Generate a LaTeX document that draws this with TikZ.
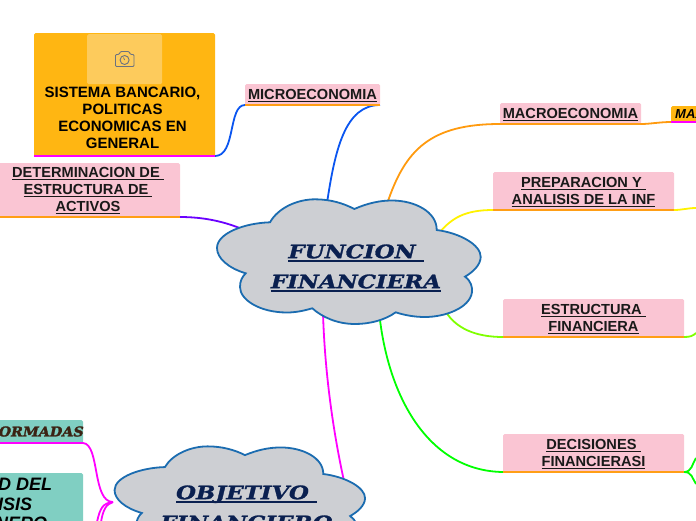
\documentclass[tikz,border=0pt]{standalone}
\usepackage{fontspec}
\setmainfont{Liberation Sans}
\newfontfamily\ttlfont[FakeStretch=1.24,FakeBold=1.6]{DejaVu Serif}
\newfontfamily\formfont[FakeStretch=1.06,FakeBold=2]{DejaVu Serif}
\usetikzlibrary{backgrounds}
\definecolor{pinkbox}{HTML}{FAC5D3}
\definecolor{orangebox}{HTML}{FFB612}
\definecolor{orangelight}{HTML}{FDCB5C}
\definecolor{tealbox}{HTML}{80CFC2}
\definecolor{linebar}{HTML}{FF9E16}
\definecolor{cloudfill}{HTML}{CDCFD3}
\definecolor{cloudline}{HTML}{1B6CB0}
\definecolor{navy}{HTML}{0A2050}
\definecolor{brownish}{HTML}{3B2314}
\definecolor{cblue}{HTML}{0A55F0}
\definecolor{cpurple}{HTML}{6A00FF}
\definecolor{corange}{HTML}{FF9A0E}
\definecolor{clime}{HTML}{7FFF00}
\definecolor{iconc}{HTML}{6B7280}
\definecolor{magenta}{HTML}{FF00FF}
\newcommand\dn{\rule{0pt}{13pt}}
\newcommand\ulx[2][1]{\setbox0\hbox{#2}\leavevmode\rlap{\rule[-2.3pt]{\wd0}{#1pt}}\box0}
\newcommand\ult[1]{\setbox0\hbox{#1}\leavevmode\rlap{\rule[-3.4pt]{\wd0}{1.8pt}}\box0}
\newcommand\cloudshape{(354.3,209)
 .. controls (368,203) and (380,200.5) .. (392,200.5)
 .. controls (415,200.5) and (437,212) .. (436.7,230)
 .. controls (460,233) and (481,245) .. (480.7,257)
 .. controls (480.5,265) and (473,272) .. (465,276.7)
 .. controls (471,281) and (472.5,287) .. (472,292)
 .. controls (470,308) and (445,317) .. (425,317)
 .. controls (414,317) and (404,315) .. (395.7,312.3)
 .. controls (385,320) and (370,324) .. (355,324)
 .. controls (337,324) and (322,317) .. (312.3,308.3)
 .. controls (303,311) and (295,312.5) .. (287,312.5)
 .. controls (260,312.5) and (240,300) .. (240,287)
 .. controls (240,281) and (242,277) .. (245.7,273.3)
 .. controls (228,268) and (217,258) .. (217,248)
 .. controls (217,233) and (245,223) .. (270,222.3)
 .. controls (278,208) and (297,199.3) .. (315,199.3)
 .. controls (330,199.3) and (343,203) .. (354.3,209) -- cycle}
\tikzset{
 x=1pt,y=-1pt,
 card/.style={anchor=north west,inner sep=0pt,outer sep=0pt,rounded corners=1.5pt,align=center,
   font=\fontsize{14.6}{17}\selectfont\bfseries,text=black!90},
 pinkcard/.style={card,fill=pinkbox},
 tealcard/.style={card,fill=tealbox},
 barline/.style={draw=linebar,line width=2pt},
 magbar/.style={draw=magenta,line width=2pt},
 conn/.style={line width=1.8pt},
 cloudpen/.style={draw=cloudline,fill=cloudfill,line width=1.8pt},
 title/.style={inner sep=0pt,text=navy,font=\fontsize{18.5}{30}\selectfont\ttlfont\bfseries\itshape,align=center},
}
\begin{document}
\begin{tikzpicture}
\useasboundingbox (0,0) rectangle (696,520);
\clip (0,0) rectangle (696,520);
% cards
\node[card,fill=orangebox,minimum width=181pt,minimum height=123pt] (sistema) at (34,33) {};
\node[anchor=north,inner sep=0pt,align=center,font=\fontsize{15}{17}\selectfont\bfseries] (sistematext) at (122.5,87)
  {SISTEMA BANCARIO,\\POLITICAS\\ECONOMICAS EN\\GENERAL};
\node[anchor=north west,inner sep=0pt,fill=orangelight,rounded corners=1.5pt,minimum width=75pt,minimum height=50pt] (photo) at (87,34) {};
\draw[iconc,line width=.9pt,rounded corners=1pt] (115.5,54.5) -- (119,54.5) -- (120.5,51.5) -- (129,51.5) -- (130.5,54.5) -- (134,54.5) -- (134,66.5) -- (115.5,66.5) -- cycle;
\draw[iconc,line width=.9pt] (124.6,60) circle (4.5pt);
\draw[iconc,line width=.7pt] (124.6,60) -- (123.5,57.5);

\node[pinkcard,minimum width=135pt,minimum height=21pt] (micro) at (245,84) {\dn\ulx{MICROECONOMIA}};
\node[pinkcard,minimum width=141pt,minimum height=21pt] (macro) at (500,103) {\dn\ulx{MACROECONOMIA}};
\node[pinkcard,minimum width=181pt,minimum height=38pt] (prep) at (493,172) {\dn\ulx{PREPARACION Y\ }\\\ulx{ANALISIS DE LA INF}};
\node[pinkcard,minimum width=181pt,minimum height=38pt] (estr) at (503,299) {\dn\ulx{ESTRUCTURA\ }\\\ulx{FINANCIERA}};
\node[pinkcard,minimum width=181pt,minimum height=38pt] (decis) at (503,434) {\dn\ulx{DECISIONES\ }\\\ulx{FINANCIERASI}};
\node[pinkcard,minimum width=185pt,minimum height=54pt] (deter) at (-5,163) {};
\node[inner sep=0pt,align=center,font=\fontsize{14.6}{17}\selectfont\bfseries,text=black!90] (detertext) at (88,190.5)
  {\ulx{DETERMINACION DE\ }\\\ulx{ESTRUCTURA DE\ }\\\ulx{ACTIVOS}};
\node[card,fill=orangebox,minimum width=40pt,minimum height=16pt] (maxn) at (671,106) {};
\node[anchor=west,inner sep=0pt,font=\fontsize{13}{14}\selectfont\bfseries\itshape] (maxt) at (675,114) {MAX};
\node[tealcard,minimum width=93pt,minimum height=23pt] (form) at (-10,420) {};
\node[anchor=east,inner sep=0pt,text=brownish,font=\fontsize{13.5}{16}\selectfont\formfont\bfseries\itshape] (formt) at (84,431.5) {FORMADAS};
\node[tealcard,minimum width=93pt,minimum height=60pt] (calid) at (-10,473) {};
\node[anchor=north west,inner sep=0pt,align=left,font=\fontsize{18}{19.6}\selectfont\bfseries\itshape] (calidt) at (-2,478) {D DEL\\ISIS\\\hspace*{-3pt}NERO};
% bars
\draw[magbar] (sistema.south west) -- (sistema.south east);
\draw[barline] (micro.south west) -- (micro.south east);
\draw[barline] (macro.south west) -- (macro.south east);
\draw[barline] (prep.south west) -- (prep.south east);
\draw[barline] (estr.south west) -- (estr.south east);
\draw[barline] (decis.south west) -- (decis.south east);
\draw[barline] (deter.south west) -- (deter.south east);
\draw[magbar] (maxn.south west) -- (maxn.south east);
\draw[magbar] (form.south west) -- (form.south east);
% clouds
\draw[cloudpen] \cloudshape;
\begin{scope}[shift={(-91.6,267)},xscale=.95,yscale=.9]
\draw[cloudpen] \cloudshape;
\end{scope}
\node[title] (fin) at (356,268) {\ult{FUNCION\ }\\\ult{FINANCIERA}};
\node[title] (obj) at (246.5,509) {\ult{OBJETIVO\ }\\\ult{FINANCIERO}};
% anchor points on the clouds and free ends
\coordinate (finN) at (327,203);
\coordinate (finW) at (242,229);
\coordinate (finNE) at (387,204);
\coordinate (finE) at (440,232);
\coordinate (finSE) at (446,312);
\coordinate (finS) at (380,320);
\coordinate (finSW) at (323,313);
\coordinate (objNE) at (344,481);
\coordinate (objW) at (113,502);
\coordinate (e1) at (696,208);
\coordinate (e2) at (696,333);
\coordinate (e3) at (696,458);
\coordinate (e4) at (696,484);
\coordinate (e5) at (97,522);
\coordinate (e6) at (101,522);
% connectors
\begin{scope}[on background layer]
\draw[conn,cblue] (micro.south east) .. controls (345,105) and (335,150) .. (finN);
\draw[conn,cblue] (micro.south west) .. controls (228,105) and (236,156) .. (sistema.south east);
\draw[conn,cpurple] (deter.south east) .. controls (205,217) and (225,222) .. (finW);
\draw[conn,corange] (macro.south west) .. controls (430,124) and (405,150) .. (finNE);
\draw[conn,corange] (macro.south east) .. controls (650,124) and (660,122) .. (maxn.south west);
\draw[conn,yellow] (prep.south west) .. controls (465,210) and (452,218) .. (finE);
\draw[conn,yellow] (prep.south east) .. controls (682,210) and (688,208) .. (e1);
\draw[conn,clime] (estr.south west) .. controls (475,337) and (456,328) .. (finSE);
\draw[conn,clime] (estr.south east) .. controls (690,337) and (693,336) .. (e2);
\draw[conn,green] (decis.south west) .. controls (430,471) and (390,400) .. (finS);
\draw[conn,green] (decis.south east) .. controls (692,472) and (692,464) .. (e3);
\draw[conn,green] (decis.south east) .. controls (692,472) and (692,478) .. (e4);
\draw[conn,magenta] (finSW) .. controls (325,380) and (335,440) .. (objNE);
\draw[conn,magenta] (form.south east) .. controls (100,444) and (92,502) .. (objW);
\draw[conn,magenta] (objW) .. controls (103,503) and (100,508) .. (e5);
\draw[conn,magenta] (objW) .. controls (106,504) and (103,510) .. (e6);
\end{scope}
\end{tikzpicture}
\end{document}
